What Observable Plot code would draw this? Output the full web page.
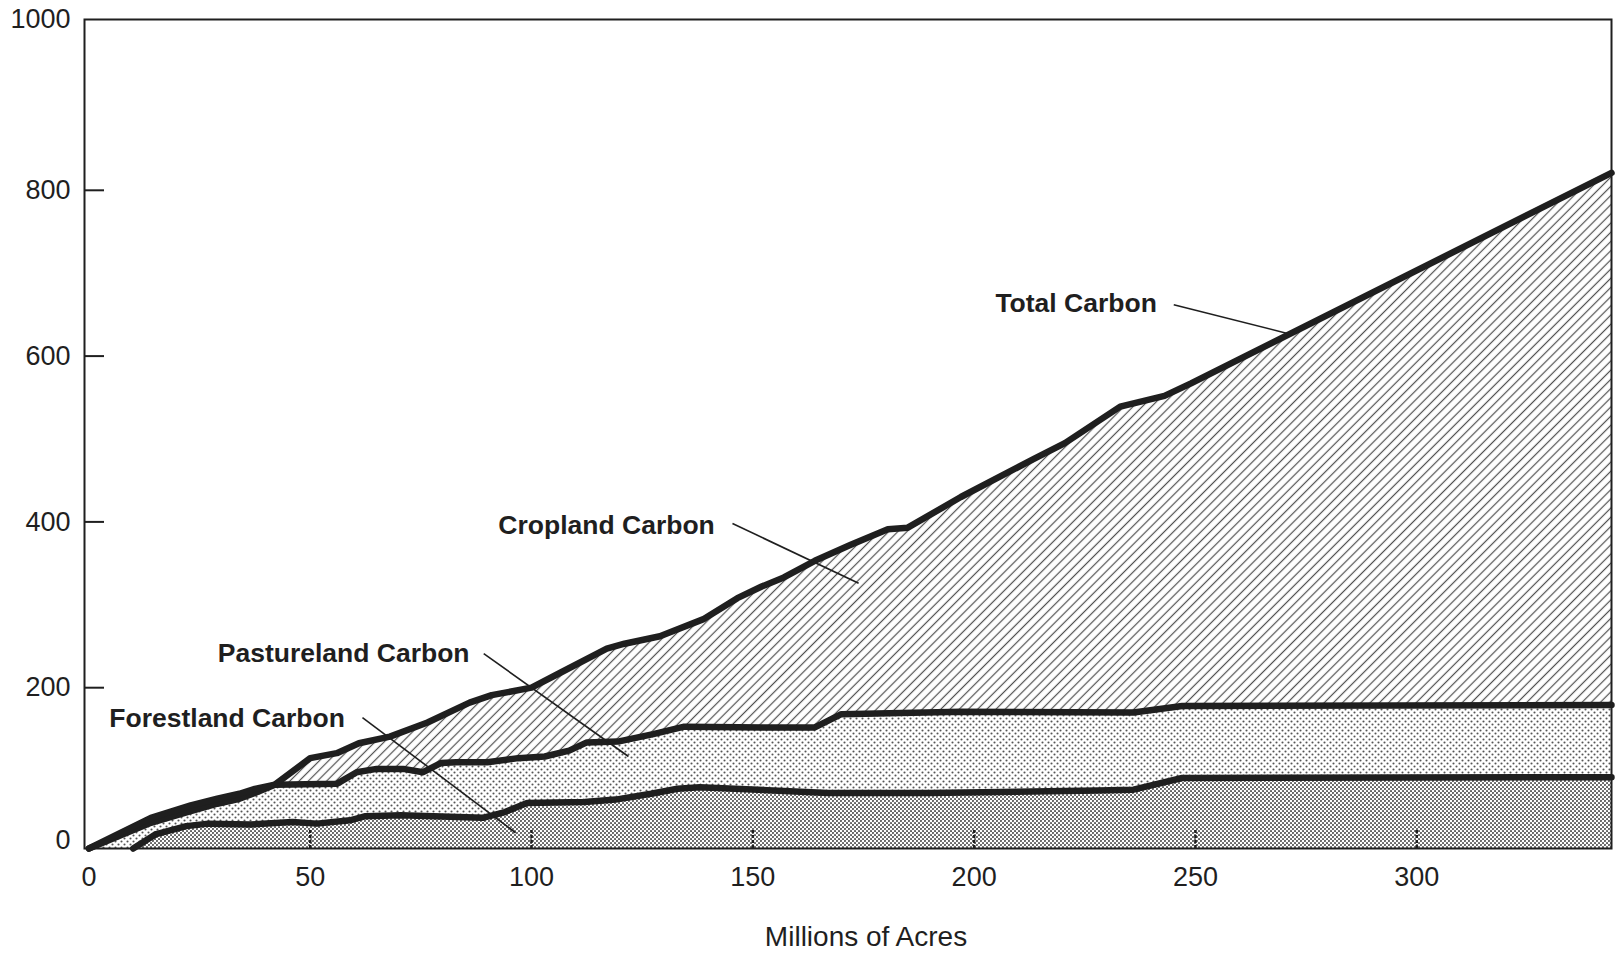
<!DOCTYPE html>
<html>
<head>
<meta charset="utf-8">
<script src="https://cdn.jsdelivr.net/npm/d3@7"></script>
<script src="https://cdn.jsdelivr.net/npm/@observablehq/plot@0.6"></script>
<style>
  html, body { margin: 0; padding: 0; background: #ffffff; }
  #chart svg { display: block; }
</style>
</head>
<body>
<div id="chart"></div>
<script>
// x = millions of acres, y = carbon; each series is the top edge of a stacked layer
const totalCarbon = [
  [0, 0], [14, 37], [23, 52], [29, 60], [34, 66], [37.5, 72], [42, 77],
  [50, 109], [56, 115], [61, 127], [68, 135], [76.5, 152], [86, 176],
  [91, 185], [100, 194], [106.5, 212], [117, 241], [121, 247],
  [129, 256], [139, 277], [146.5, 302], [152, 316], [157, 327], [164, 347],
  [172, 366], [180.5, 385], [185, 387], [197, 424], [213.5, 470], [220.5, 489],
  [233, 533], [243, 546], [249, 561], [344, 815]
];
const pastureTop = [
  [0, 0], [14, 31], [23, 45], [29, 54], [34, 60], [37.5, 67], [42, 77],
  [56, 78], [60.5, 92], [65, 96], [71, 96], [75.5, 92], [79.5, 103], [83, 104],
  [90, 104], [97, 109], [103, 111], [108.5, 118], [112.5, 128], [119.5, 129],
  [127.5, 138], [134.5, 147], [152.5, 146], [164, 146], [170, 162], [197, 165],
  [236, 164], [247, 172], [344, 173]
];
const forestTop = [
  [10, 0], [15, 17], [22, 27], [27, 30], [36.5, 29], [46, 32], [51.5, 30],
  [59, 34], [62.5, 39], [70.5, 40], [89, 37], [94, 44], [99, 55], [112, 56],
  [119, 59], [127, 66], [133, 72], [138, 74], [167, 67], [190, 67], [228, 70],
  [236, 71], [247, 85], [344, 86]
];
const xTicks = [0, 50, 100, 150, 200, 250, 300];
const yTicks = [0, 200, 400, 600, 800, 1000];
const xTitle = "Millions of Acres";

// annotations: label text, label anchor (data units), leader line start and end
const annotationText = ["Total Carbon", "Cropland Carbon", "Pastureland Carbon", "Forestland Carbon"];
const annotationAt = [[204.8, 657], [92.5, 390], [29.1, 235], [4.6, 157]];
const leaderFrom = [[245.1, 656], [145.4, 392], [89.2, 235], [61.8, 158]];
const leaderTo = [[271.0, 621], [173.9, 320], [121.9, 111], [96.4, 19]];

const ink = "#1f1f1f";
const fontFamily = '"Liberation Sans", Arial, Helvetica, sans-serif';

const annotations = annotationText.map((t, i) => ({
  text: t, x: annotationAt[i][0], y: annotationAt[i][1],
  x1: leaderFrom[i][0], y1: leaderFrom[i][1], x2: leaderTo[i][0], y2: leaderTo[i][1]
}));

const X = d => d[0], Y = d => d[1];
const lineStyle = { stroke: ink, strokeWidth: 6.5, strokeLinejoin: "round", strokeLinecap: "round" };
const yLabelStyle = { tickSize: 0, tickPadding: 14, tickFormat: d => String(d), label: null, fontSize: 27, fill: ink };
const innerTicks = yTicks.filter(v => v > 0 && v < 1000);

const chart = Plot.plot({
  width: 1622,
  height: 953,
  marginTop: 19,
  marginLeft: 84,
  marginRight: 11,
  marginBottom: 105,
  style: { fontFamily, fontSize: "27px", color: ink, background: "#ffffff", overflow: "visible" },
  x: { domain: [-1, 344], label: null },
  y: { domain: [0, 1000], label: null },
  marks: [
    Plot.areaY(totalCarbon, { x: X, y1: 0, y2: Y, fill: "url(#hatch)" }),
    Plot.areaY(pastureTop, { x: X, y1: 0, y2: Y, fill: "url(#dotsLight)" }),
    Plot.areaY(forestTop, { x: X, y1: 0, y2: Y, fill: "url(#dotsDense)" }),
    Plot.axisX({ ticks: xTicks.filter(v => v > 0), tickSize: 18, dy: -18, text: null, label: null,
      stroke: ink, strokeWidth: 2.5, strokeDasharray: "3 2" }),
    Plot.lineY(forestTop, { x: X, y: Y, ...lineStyle }),
    Plot.lineY(pastureTop, { x: X, y: Y, ...lineStyle }),
    Plot.lineY(totalCarbon, { x: X, y: Y, ...lineStyle }),
    Plot.frame({ stroke: ink, strokeWidth: 2 }),
    Plot.axisY({ ticks: yTicks.filter(v => v === 0), dy: -8, ...yLabelStyle }),
    Plot.axisY({ ticks: innerTicks, dy: 5, ...yLabelStyle }),
    Plot.axisY({ ticks: yTicks.filter(v => v === 1000), ...yLabelStyle }),
    Plot.axisY({ ticks: innerTicks, tickSize: 20, dx: 20, dy: 5, text: null, label: null,
      stroke: ink, strokeWidth: 2 }),
    Plot.axisX({ ticks: xTicks, tickSize: 0, tickPadding: 18, tickFormat: d => String(d),
      label: null, fontSize: 27, fill: ink }),
    Plot.text([xTitle], { frameAnchor: "bottom", dy: 97, dx: 18, fontSize: 28, fill: ink }),
    Plot.link(annotations, { x1: "x1", y1: "y1", x2: "x2", y2: "y2", stroke: ink, strokeWidth: 1.6 }),
    Plot.text(annotations, { x: "x", y: "y", text: "text", textAnchor: "start", fontWeight: "bold",
      fontSize: 26.5, fill: ink })
  ]
});

d3.select(chart).insert("defs", ":first-child").html(`
  <pattern id="hatch" patternUnits="userSpaceOnUse" width="6.5" height="6.5" patternTransform="rotate(45)">
    <rect width="6.5" height="6.5" fill="#ffffff"/>
    <line x1="3.25" y1="-1" x2="3.25" y2="7.5" stroke="#505050" stroke-width="1.2"/>
  </pattern>
  <pattern id="dotsLight" patternUnits="userSpaceOnUse" width="6" height="6">
    <rect width="6" height="6" fill="#ffffff"/>
    <circle cx="1.5" cy="1.5" r="1.05" fill="#555555"/>
    <circle cx="4.5" cy="4.5" r="1.05" fill="#555555"/>
  </pattern>
  <pattern id="dotsDense" patternUnits="userSpaceOnUse" width="4" height="4">
    <rect width="4" height="4" fill="#ffffff"/>
    <circle cx="1" cy="1" r="1.05" fill="#5a5a5a"/>
    <circle cx="3" cy="3" r="1.05" fill="#5a5a5a"/>
  </pattern>
`);

document.getElementById("chart").appendChild(chart);
</script>
</body>
</html>
